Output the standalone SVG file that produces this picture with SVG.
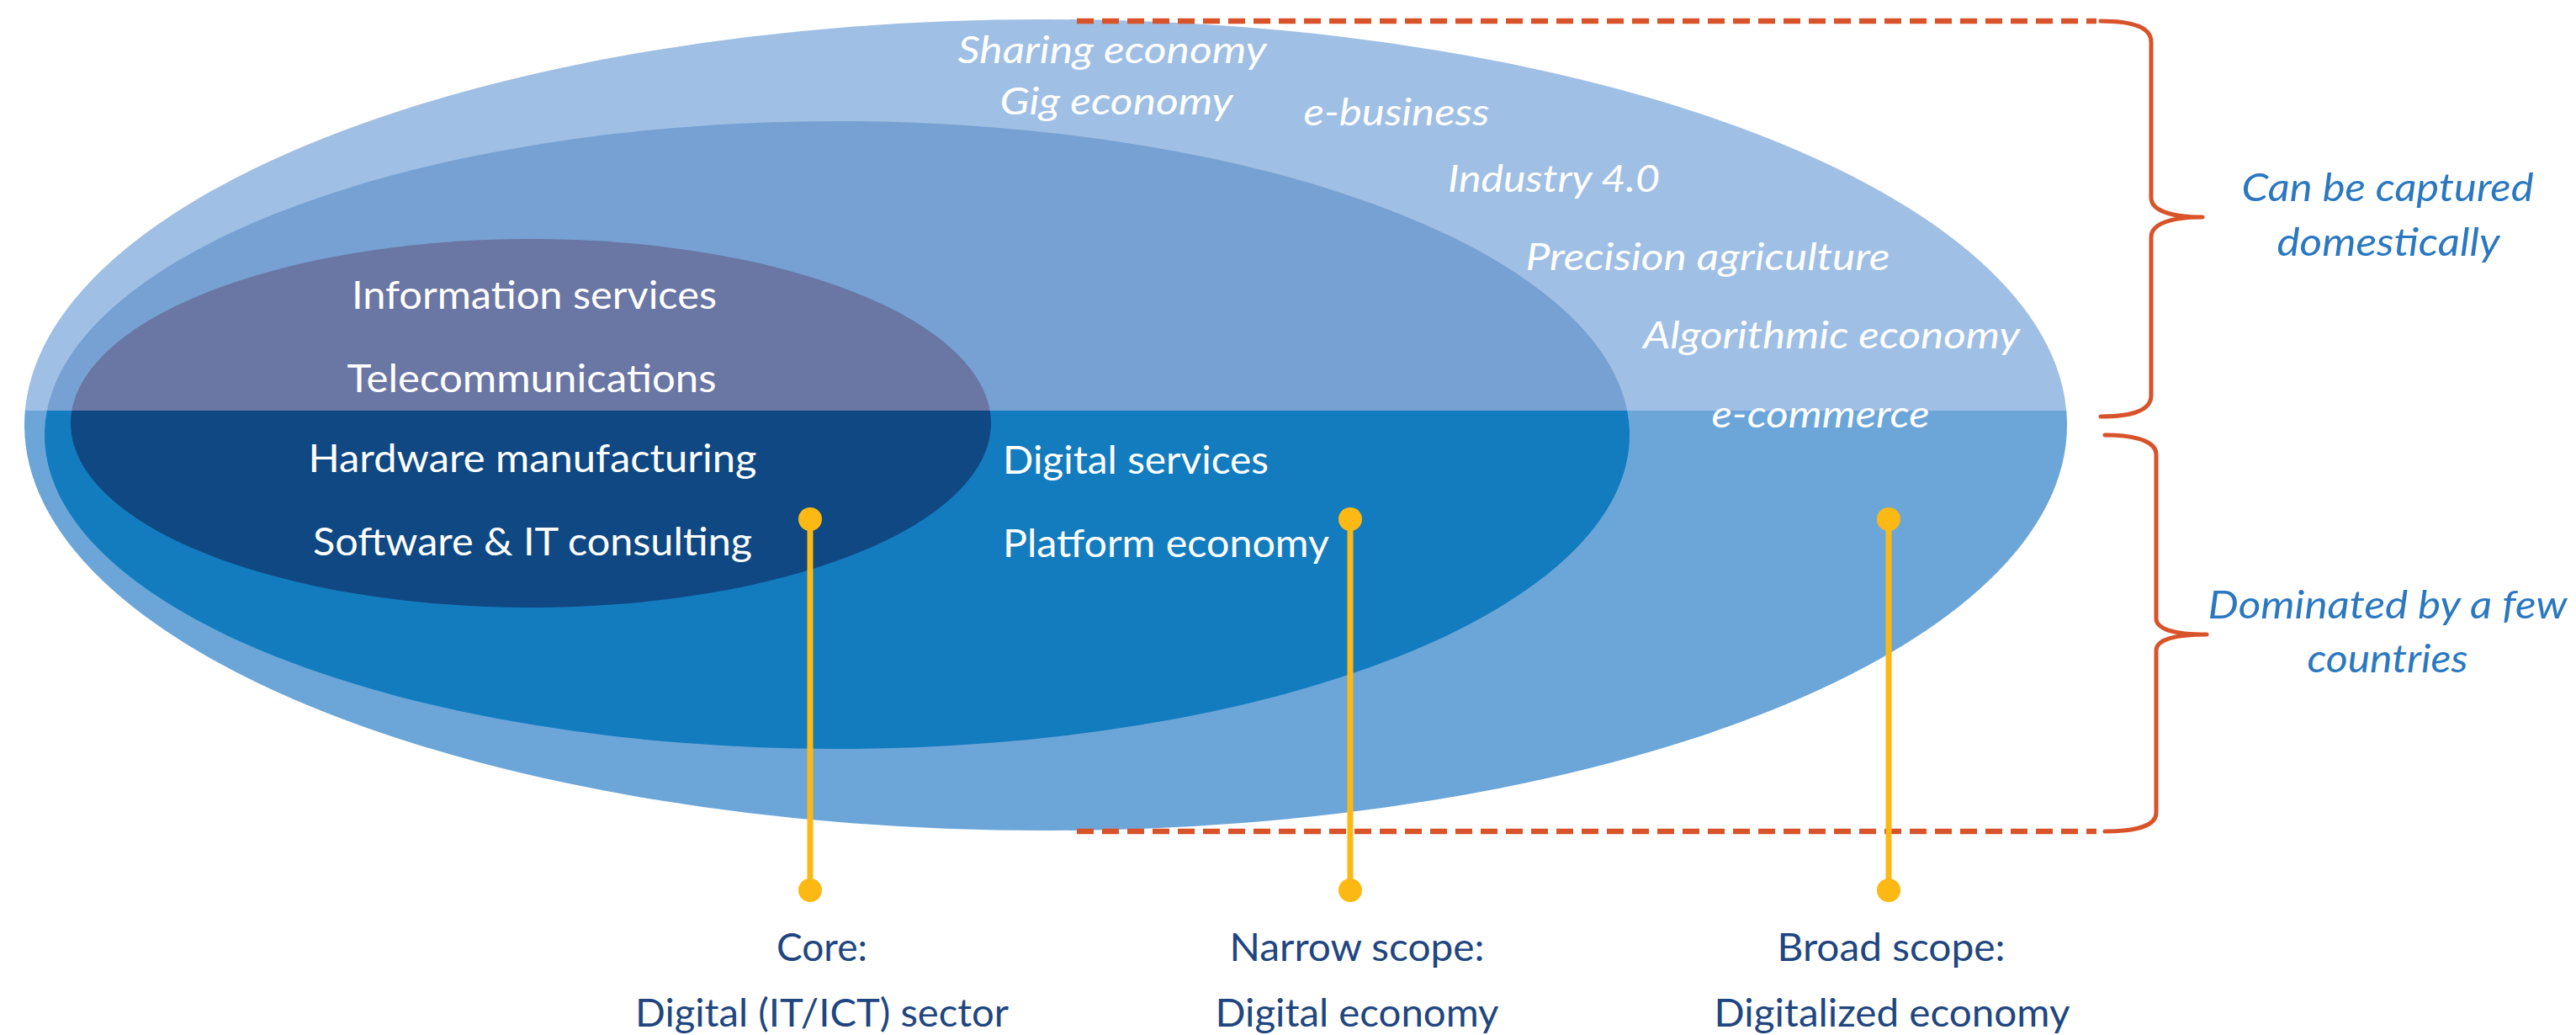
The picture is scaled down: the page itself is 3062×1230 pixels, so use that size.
<svg xmlns="http://www.w3.org/2000/svg" width="3062" height="1230" viewBox="0 0 3062 1230">
<defs>
<clipPath id="topHalf"><rect x="0" y="0" width="3062" height="488"/></clipPath>
<clipPath id="bottomHalf"><rect x="0" y="488" width="3062" height="742"/></clipPath>
<style>
.w{font-family:Lato,"Open Sans","Liberation Sans",sans-serif;font-size:46px;fill:#ffffff}
.wi{font-family:Lato,"Open Sans","Liberation Sans",sans-serif;font-size:44px;font-style:italic;fill:#ffffff}
.lbl{font-family:Lato,"Open Sans","Liberation Sans",sans-serif;font-size:46px;fill:#21467f;text-anchor:middle}
.br{font-family:Lato,"Open Sans","Liberation Sans",sans-serif;font-size:46px;font-style:italic;fill:#2b78c0;text-anchor:middle}
.m{text-anchor:middle}
.dash{fill:none;stroke:#d9532a;stroke-width:6.5;stroke-dasharray:20 10}
.brace{fill:none;stroke:#d9532a;stroke-width:5;stroke-linecap:round;stroke-linejoin:round}
.yl{stroke:#fdb913;stroke-width:7}
.yd{fill:#fdb913}
</style>
</defs>
<rect width="3062" height="1230" fill="#ffffff"/>

<g id="broad-scope">
<ellipse cx="1243" cy="505" rx="1214" ry="482" fill="#a0bfe4" clip-path="url(#topHalf)"/>
<ellipse cx="1243" cy="505" rx="1214" ry="482" fill="#6ca6d8" clip-path="url(#bottomHalf)"/>
</g>
<g id="narrow-scope">
<ellipse cx="995" cy="517" rx="942" ry="373" fill="#76a1d2" clip-path="url(#topHalf)"/>
<ellipse cx="995" cy="517" rx="942" ry="373" fill="#137cbf" clip-path="url(#bottomHalf)"/>
</g>
<g id="core">
<ellipse cx="631" cy="503" rx="547" ry="219" fill="#6a76a3" clip-path="url(#topHalf)"/>
<ellipse cx="631" cy="503" rx="547" ry="219" fill="#0f4883" clip-path="url(#bottomHalf)"/>
</g>

<g id="broad-labels">
<text class="wi m" x="1322" y="75" textLength="367" lengthAdjust="spacingAndGlyphs">Sharing economy</text>
<text class="wi m" x="1327" y="136" textLength="277" lengthAdjust="spacingAndGlyphs">Gig economy</text>
<text class="wi m" x="1660" y="149" textLength="221" lengthAdjust="spacingAndGlyphs">e-business</text>
<text class="wi m" x="1847" y="228" textLength="252" lengthAdjust="spacingAndGlyphs">Industry 4.0</text>
<text class="wi m" x="2030" y="321" textLength="433" lengthAdjust="spacingAndGlyphs">Precision agriculture</text>
<text class="wi m" x="2177" y="414" textLength="448" lengthAdjust="spacingAndGlyphs">Algorithmic economy</text>
<text class="wi m" x="2164" y="508" textLength="259" lengthAdjust="spacingAndGlyphs">e-commerce</text>
</g>
<g id="core-labels">
<text class="w m" x="635" y="367" textLength="434" lengthAdjust="spacingAndGlyphs">Information services</text>
<text class="w m" x="632" y="466" textLength="439" lengthAdjust="spacingAndGlyphs">Telecommunications</text>
<text class="w m" x="633" y="561" textLength="533" lengthAdjust="spacingAndGlyphs">Hardware manufacturing</text>
<text class="w m" x="633" y="660" textLength="522" lengthAdjust="spacingAndGlyphs">Software &amp; IT consulting</text>
</g>
<g id="narrow-labels">
<text class="w" x="1192" y="563" textLength="316" lengthAdjust="spacingAndGlyphs">Digital services</text>
<text class="w" x="1192" y="662" textLength="388" lengthAdjust="spacingAndGlyphs">Platform economy</text>
</g>

<g id="braces">
<line class="dash" x1="1280" y1="25" x2="2492" y2="25"/>
<line class="dash" x1="1280" y1="988" x2="2492" y2="988"/>
<path class="brace" d="M2497,25 C2540,25 2557,35 2557,50 L2557,235 C2557,250 2580,258 2618,258 C2580,258 2557,266 2557,282 L2557,470 C2557,485 2540,495 2497,495"/>
<path class="brace" d="M2502,517 C2545,517 2563,527 2563,540 L2563,735 C2563,748 2585,754 2623,754 C2585,754 2563,760 2563,773 L2563,966 C2563,979 2545,988 2502,988"/>
</g>
<g id="brace-labels">
<text class="br" x="2838" y="239" textLength="347" lengthAdjust="spacingAndGlyphs">Can be captured</text>
<text class="br" x="2839" y="304" textLength="265" lengthAdjust="spacingAndGlyphs">domestically</text>
<text class="br" x="2838" y="735" textLength="427" lengthAdjust="spacingAndGlyphs">Dominated by a few</text>
<text class="br" x="2838" y="799" textLength="191" lengthAdjust="spacingAndGlyphs">countries</text>
</g>

<g id="connectors">
<line class="yl" x1="963" y1="617" x2="963" y2="1058"/>
<circle class="yd" cx="963" cy="617" r="14"/>
<circle class="yd" cx="963" cy="1058" r="14"/>
<line class="yl" x1="1605" y1="617" x2="1605" y2="1058"/>
<circle class="yd" cx="1605" cy="617" r="14"/>
<circle class="yd" cx="1605" cy="1058" r="14"/>
<line class="yl" x1="2245" y1="617" x2="2245" y2="1058"/>
<circle class="yd" cx="2245" cy="617" r="14"/>
<circle class="yd" cx="2245" cy="1058" r="14"/>
</g>

<g id="label-core">
<text class="lbl" x="977" y="1142" textLength="108" lengthAdjust="spacingAndGlyphs">Core:</text>
<text class="lbl" x="977" y="1220" textLength="444" lengthAdjust="spacingAndGlyphs">Digital (IT/ICT) sector</text>
</g>
<g id="label-narrow">
<text class="lbl" x="1613" y="1142" textLength="303" lengthAdjust="spacingAndGlyphs">Narrow scope:</text>
<text class="lbl" x="1613" y="1220" textLength="337" lengthAdjust="spacingAndGlyphs">Digital economy</text>
</g>
<g id="label-broad">
<text class="lbl" x="2248" y="1142" textLength="271" lengthAdjust="spacingAndGlyphs">Broad scope:</text>
<text class="lbl" x="2249" y="1220" textLength="423" lengthAdjust="spacingAndGlyphs">Digitalized economy</text>
</g>
</svg>
